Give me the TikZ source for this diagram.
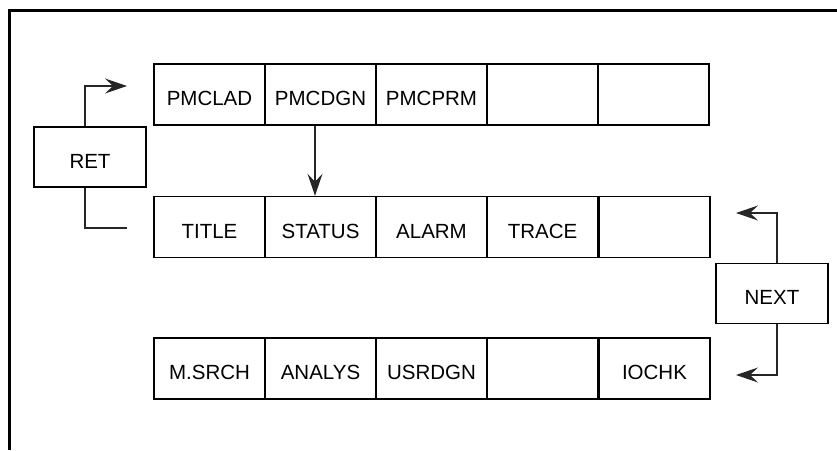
\documentclass[tikz,border=0pt]{standalone}
\usepackage{fontspec}
\setmainfont{Liberation Sans}
\usetikzlibrary{arrows.meta,calc}
\begin{document}
\begin{tikzpicture}[x=1pt,y=-1pt,
  cell/.style={draw, line width=1.5pt, rectangle, minimum width=111pt, minimum height=61pt,
    inner sep=0pt, font=\fontsize{20.5}{24}\selectfont, text height=22pt, text depth=0pt},
  keybox/.style={draw, line width=1.5pt, rectangle, minimum width=112pt, minimum height=60pt,
    inner sep=0pt, font=\fontsize{20.5}{24}\selectfont, text height=22pt, text depth=0pt},
  conn/.style={line width=1.2pt, draw=black!85},
  tip/.style={-{Stealth[length=22pt,width=15pt,inset=8pt]}}
]
\useasboundingbox (0,0) rectangle (837,450);
% frame
\draw[line width=3pt] (9,450) -- (9,10) -- (837,10);
% row 1
\node[cell] (a1) at (209.5,94.5) {PMCLAD};
\node[cell] (a2) at (320.5,94.5) {PMCDGN};
\node[cell] (a3) at (431.5,94.5) {PMCPRM};
\node[cell] (a4) at (542.5,94.5) {};
\node[cell] (a5) at (653.5,94.5) {};
% row 2
\node[cell] (b1) at (209.5,227) {TITLE};
\node[cell] (b2) at (320.5,227) {STATUS};
\node[cell] (b3) at (431.5,227) {ALARM};
\node[cell] (b4) at (542.5,227) {TRACE};
\node[cell] (b5) at (654.5,227) {};
% row 3
\node[cell] (c1) at (209.5,368.5) {M.SRCH};
\node[cell] (c2) at (320.5,368.5) {ANALYS};
\node[cell] (c3) at (431.5,368.5) {USRDGN};
\node[cell] (c4) at (542.5,368.5) {};
\node[cell] (c5) at (654.5,368.5) {IOCHK};
% keys
\node[keybox] (ret) at (90,157) {RET};
\node[keybox] (next) at (772,293.5) {NEXT};
% connector coordinates
\coordinate (retx) at (85,0);
\coordinate (rettop) at (127,86);
\coordinate (retbot) at (127,228);
\coordinate (nextx) at (777,0);
\coordinate (nexttop) at (736,213);
\coordinate (nextbot) at (736,375);
\coordinate (dgnx) at (315,0);
% connectors
\draw[conn,tip] (ret.north -| retx) |- (rettop);
\draw[conn] (ret.south -| retx) |- (retbot);
\draw[conn,tip] (a2.south -| dgnx) -- (b2.north -| dgnx);
\draw[conn,tip] (next.north -| nextx) |- (nexttop);
\draw[conn,tip] (next.south -| nextx) |- (nextbot);
\end{tikzpicture}
\end{document}
